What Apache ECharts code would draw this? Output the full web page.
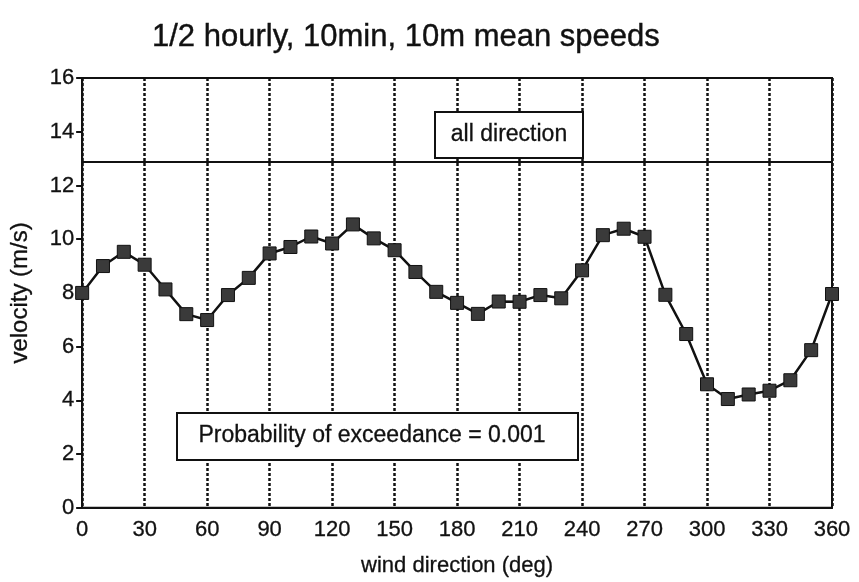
<!DOCTYPE html>
<html>
<head>
<meta charset="utf-8">
<script src="https://cdn.jsdelivr.net/npm/echarts@6/dist/echarts.min.js"></script>
<style>
html,body{margin:0;padding:0;background:#fff;}
#chart{width:859px;height:582px;}
</style>
</head>
<body>
<div id="chart"></div>
<script>
// ---- data ----
const titleText = "1/2 hourly, 10min, 10m mean speeds";
const xAxisName = "wind direction (deg)";
const yAxisName = "velocity (m/s)";
const directions = [0,10,20,30,40,50,60,70,80,90,100,110,120,130,140,150,160,170,180,190,200,210,220,230,240,250,260,270,280,290,300,310,320,330,340,350,360];
const velocities = [8.0,9.0,9.53,9.05,8.13,7.21,6.99,7.92,8.56,9.47,9.71,10.1,9.84,10.55,10.03,9.59,8.78,8.04,7.63,7.22,7.68,7.67,7.92,7.8,8.84,10.15,10.39,10.09,7.93,6.47,4.6,4.05,4.22,4.36,4.75,5.87,7.96];
const allDirectionValue = 12.9;
const allDirectionLabel = "all direction";
const probabilityLabel = "Probability of exceedance = 0.001";

const FONT = "'Liberation Sans', Arial, sans-serif";
const INK = "#111";

const chart = echarts.init(document.getElementById('chart'), null, {renderer: 'canvas'});
const seriesData = directions.map((d, i) => [d, velocities[i]]);

chart.setOption({
  backgroundColor: '#fff',
  animation: false,
  title: {
    text: titleText,
    left: 147, top: 17,
    textStyle: {fontFamily: FONT, fontSize: 31, fontWeight: 'normal', color: INK,
                textBorderColor: INK, textBorderWidth: 0.4}
  },
  grid: {
    left: 81, right: 27, top: 78, bottom: 63,
    show: true, borderColor: INK, borderWidth: 2, backgroundColor: 'transparent'
  },
  xAxis: {
    type: 'value', min: 0, max: 360, interval: 30,
    name: xAxisName, nameLocation: 'middle', nameGap: 47,
    nameTextStyle: {fontFamily: FONT, fontSize: 22, color: INK, textBorderColor: INK, textBorderWidth: 0.3},
    axisLine: {show: true, lineStyle: {color: INK, width: 2}},
    axisTick: {show: false},
    axisLabel: {fontFamily: FONT, fontSize: 22, color: INK, margin: 11, textBorderColor: INK, textBorderWidth: 0.3},
    splitLine: {show: true, lineStyle: {color: INK, width: 2.5, type: [3, 2]}}
  },
  yAxis: {
    type: 'value', min: 0, max: 16, interval: 2,
    name: yAxisName, nameLocation: 'middle', nameGap: 50,
    nameTextStyle: {fontFamily: FONT, fontSize: 24, color: INK, textBorderColor: INK, textBorderWidth: 0.3},
    axisLine: {show: true, lineStyle: {color: INK, width: 2}},
    axisTick: {show: true, inside: false, length: 6, lineStyle: {color: INK, width: 2}},
    axisLabel: {fontFamily: FONT, fontSize: 22, color: INK, margin: 8, textBorderColor: INK, textBorderWidth: 0.3},
    splitLine: {show: false}
  },
  series: [{
    type: 'line',
    data: seriesData,
    symbol: 'rect',
    symbolSize: 13,
    itemStyle: {color: '#3a3a3a', borderColor: '#111', borderWidth: 1},
    lineStyle: {color: INK, width: 2.5},
    z: 5,
    markLine: {
      silent: true,
      symbol: ['none', 'none'],
      label: {show: false},
      lineStyle: {color: INK, width: 2, type: 'solid'},
      data: [{yAxis: allDirectionValue}]
    }
  }],
  graphic: [
    {type: 'rect', z: 100, shape: {x: 435, y: 112, width: 148, height: 46},
     style: {fill: '#fff', stroke: INK, lineWidth: 2}},
    {type: 'text', z: 101, x: 509, y: 135,
     style: {text: allDirectionLabel, font: "23px 'Liberation Sans', Arial, sans-serif",
             fill: INK, stroke: INK, lineWidth: 0.3, textAlign: 'center', textVerticalAlign: 'middle'}},
    {type: 'rect', z: 100, shape: {x: 177, y: 413, width: 401, height: 47},
     style: {fill: '#fff', stroke: INK, lineWidth: 2}},
    {type: 'text', z: 101, x: 372, y: 436,
     style: {text: probabilityLabel, font: "23px 'Liberation Sans', Arial, sans-serif",
             fill: INK, stroke: INK, lineWidth: 0.3, textAlign: 'center', textVerticalAlign: 'middle'}}
  ]
});
</script>
</body>
</html>
